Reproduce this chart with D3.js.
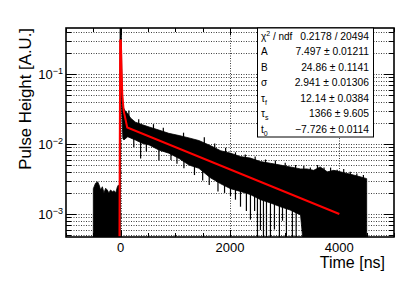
<!DOCTYPE html>
<html><head><meta charset="utf-8">
<script src="https://cdn.jsdelivr.net/npm/d3@7"></script>
<style>body{margin:0;background:#fff} svg{display:block;font-family:"Liberation Sans",Arial,Helvetica,sans-serif}</style>
</head><body><svg id="c" width="415" height="282"></svg>
<script>
// ---- data ----
const histT  = [-500,-460,-420,-395,-365,-335,-305,-275,-245,-215,-185,-150,-120,-90,-60,-40,-20,-10,5,20,40,60,80,130,180,270,400,520,700,880,1070,1250,1430,1640,1830,2010,2190,2370,2560,2740,2920,3100,3290,3410,3530,3650,3780,3900,4020,4140,4260,4380,4500];
const histHi = [0.0023,0.00275,0.00287,0.0026,0.0022,0.00245,0.0020,0.00233,0.0022,0.0020,0.0022,0.00208,0.00215,0.0020,0.00245,0.0026,0.0024,1.0,1.0,0.12,0.034,0.032,0.030,0.027,0.0235,0.0205,0.0188,0.0175,0.0158,0.0142,0.0132,0.0122,0.0112,0.0095,0.0080,0.0074,0.0066,0.0063,0.0056,0.0053,0.0050,0.0047,0.0044,0.0044,0.0042,0.0047,0.0040,0.0042,0.0040,0.0038,0.0036,0.0034,0.0032];
const histLo = [1e-4,1e-4,1e-4,1e-4,1e-4,1e-4,1e-4,1e-4,1e-4,1e-4,1e-4,1e-4,1e-4,1e-4,1e-4,1e-4,1e-4,1e-4,0.2,0.03,0.012,0.0114,0.0118,0.0127,0.0122,0.0114,0.0102,0.0097,0.0082,0.0074,0.0062,0.0050,0.0045,0.0033,0.0027,0.0023,0.0021,0.0019,0.0016,0.00144,0.00127,0.00114,0.00097,1e-4,1e-4,1e-4,1e-4,1e-4,1e-4,1e-4,1e-4,1e-4,1e-4];
// downward spikes below the band
const spikeT = [240,365,470,700,920,1030,1157,1350,1500,1620,1780,1900,2009,2100,2192,2300,2374,2450,2502,2557,2612,2667,2740,2813,2904,2960,3032,3141,3210];
const spikeV = [0.0090,0.0062,0.0078,0.0058,0.0059,0.0052,0.0045,0.0036,0.0030,0.0026,0.0021,0.0020,0.0018,0.0016,0.00127,0.0011,0.00083,0.0011,0.0003,0.00059,0.0003,0.0003,0.0003,0.0006,0.0003,0.0008,0.0003,0.0003,0.0003];
// upward spikes above the band
const upT = [150,330,600,780,1150,1530,1720,1920,2100,2280,2460,2650,2830,3010,3200,3350,3470,3600,3720,3840,3960,4080,4200,4320,4440];
const upV = [0.030,0.0225,0.0192,0.0170,0.0145,0.0125,0.0102,0.0088,0.0076,0.0071,0.0066,0.0060,0.0058,0.0054,0.0050,0.0049,0.0046,0.0050,0.0046,0.0046,0.0043,0.0044,0.0040,0.0038,0.0036];
const fitT = [-25,-9,3,15,30,55,120,4000];
const fitV = [1e-4,0.30,0.30,0.12,0.05,0.030,0.0172,0.00100];
const xTicks = [0,2000,4000];
const xTickLabels = ["0","2000","4000"];
const yTicks = [1e-3,1e-2,1e-1];
const yTickExp = ["\u22123","\u22122","\u22121"];
const statSym = ["\u03c7","A","B","\u03c3","\u03c4","\u03c4","t"];
const statSup = ["2","","","","","",""];
const statSub = ["","","","","f","s","0"];
const statSuffix = [" / ndf","","","","","",""];
const statVal = ["0.2178 / 20494","7.497 \u00b1 0.01211","24.86 \u00b1 0.1141","2.941 \u00b1 0.01306","12.14 \u00b1 0.0384","1366 \u00b1 9.605","\u22127.726 \u00b1 0.0114"];
const xTitle = "Time [ns]";
const yTitle = "Pulse Height [A.U.]";

// ---- layout ----
const L=66,T=28,R=394,B=237;
const svg = d3.select("#c");
const x = d3.scaleLinear().domain([-1000,5000]).range([L,R]);
const y = d3.scaleLog().domain([4.69e-4,0.454]).range([B,T]);
const isMajor = v => Math.abs(Math.log10(v)-Math.round(Math.log10(v)))<1e-6;

svg.append("defs").append("clipPath").attr("id","clip")
  .append("rect").attr("x",L).attr("y",T).attr("width",R-L).attr("height",B-T);

// grid
const grid = svg.append("g").attr("stroke","#000").attr("stroke-width",1).attr("stroke-dasharray","1,1.5").attr("opacity",0.75);
y.ticks().forEach(v=>{
  grid.append("line").attr("x1",L).attr("x2",R).attr("y1",Math.round(y(v))+0.5).attr("y2",Math.round(y(v))+0.5);
});
xTicks.forEach(v=>{
  grid.append("line").attr("y1",T).attr("y2",B).attr("x1",Math.round(x(v))+0.5).attr("x2",Math.round(x(v))+0.5);
});

// histogram
const plot = svg.append("g").attr("clip-path","url(#clip)");
const histData = histT.map((t,i)=>({t,hi:histHi[i],lo:histLo[i]}));
plot.append("path").datum(histData)
  .attr("d", d3.area().x(d=>x(d.t)).y0(d=>y(d.lo)).y1(d=>y(d.hi)))
  .attr("fill","#000").attr("stroke","#000").attr("stroke-width",0.8);
const loAt = d3.scaleLinear().domain(histT).range(histLo);
const hiAt = d3.scaleLinear().domain(histT).range(histHi);
spikeT.forEach((t,i)=>{
  plot.append("line").attr("x1",x(t)).attr("x2",x(t))
    .attr("y1",y(loAt(t))-2).attr("y2",y(spikeV[i]))
    .attr("stroke","#000").attr("stroke-width",1.2);
});
upT.forEach((t,i)=>{
  plot.append("line").attr("x1",x(t)).attr("x2",x(t))
    .attr("y1",y(hiAt(t))+2).attr("y2",y(upV[i]))
    .attr("stroke","#000").attr("stroke-width",1.2);
});
// fit
plot.append("path").datum(fitT.map((t,i)=>[t,fitV[i]]))
  .attr("d", d3.line().x(d=>x(d[0])).y(d=>y(d[1])))
  .attr("fill","none").attr("stroke","#ff0000").attr("stroke-width",2);

// ticks
const tk = svg.append("g").attr("stroke","#000").attr("stroke-width",1);
y.ticks().forEach(v=>{
  const len = isMajor(v)?10:5, yy = Math.round(y(v))+0.5;
  tk.append("line").attr("x1",L).attr("x2",L+len).attr("y1",yy).attr("y2",yy);
  tk.append("line").attr("x1",R).attr("x2",R-len).attr("y1",yy).attr("y2",yy);
});
d3.range(-1000,5001,500).forEach(v=>{
  const len = xTicks.includes(v)?7:4, xx = Math.round(x(v))+0.5;
  tk.append("line").attr("x1",xx).attr("x2",xx).attr("y1",B).attr("y2",B-len);
  tk.append("line").attr("x1",xx).attr("x2",xx).attr("y1",T).attr("y2",T+len);
});

// frame
svg.append("rect").attr("x",L).attr("y",T).attr("width",R-L).attr("height",B-T)
  .attr("fill","none").attr("stroke","#000").attr("stroke-width",1.6);

// tick labels
xTicks.forEach((v,i)=>{
  svg.append("text").attr("x",x(v)).attr("y",252).attr("text-anchor","middle")
    .attr("font-size",13).text(xTickLabels[i]);
});
yTicks.forEach((v,i)=>{
  const t = svg.append("text").attr("x",63).attr("y",y(v)+5.5).attr("text-anchor","end").attr("font-size",13);
  t.append("tspan").text("10");
  t.append("tspan").attr("font-size",9).attr("dy",-5).text(yTickExp[i]);
});
// titles
svg.append("text").attr("x",385).attr("y",268).attr("text-anchor","end").attr("font-size",16).text(xTitle);
svg.append("text").attr("transform","translate(30.5,28) rotate(-90)").attr("text-anchor","end").attr("font-size",16.8).text(yTitle);

// stats box
const bx0=257,bx1=373,by0=28,by1=137;
svg.append("rect").attr("x",bx0+0.5).attr("y",by0).attr("width",bx1-bx0).attr("height",by1-by0)
  .attr("fill","#fff").attr("stroke","#000").attr("stroke-width",1);
const rowH=(by1-by0)/statSym.length;
statSym.forEach((s,i)=>{
  const yb = by0+rowH*(i+0.5)+3.8;
  const t = svg.append("text").attr("x",261).attr("y",yb).attr("font-size",10);
  t.append("tspan").text(s);
  if(statSup[i]) t.append("tspan").attr("font-size",7).attr("dy",-4).text(statSup[i]);
  if(statSub[i]) t.append("tspan").attr("font-size",7).attr("dy",3).text(statSub[i]);
  if(statSuffix[i]) t.append("tspan").attr("dy",statSup[i]?4:0).text(statSuffix[i]);
  svg.append("text").attr("x",369).attr("y",yb).attr("text-anchor","end").attr("font-size",10.3).text(statVal[i]);
});
</script></body></html>
